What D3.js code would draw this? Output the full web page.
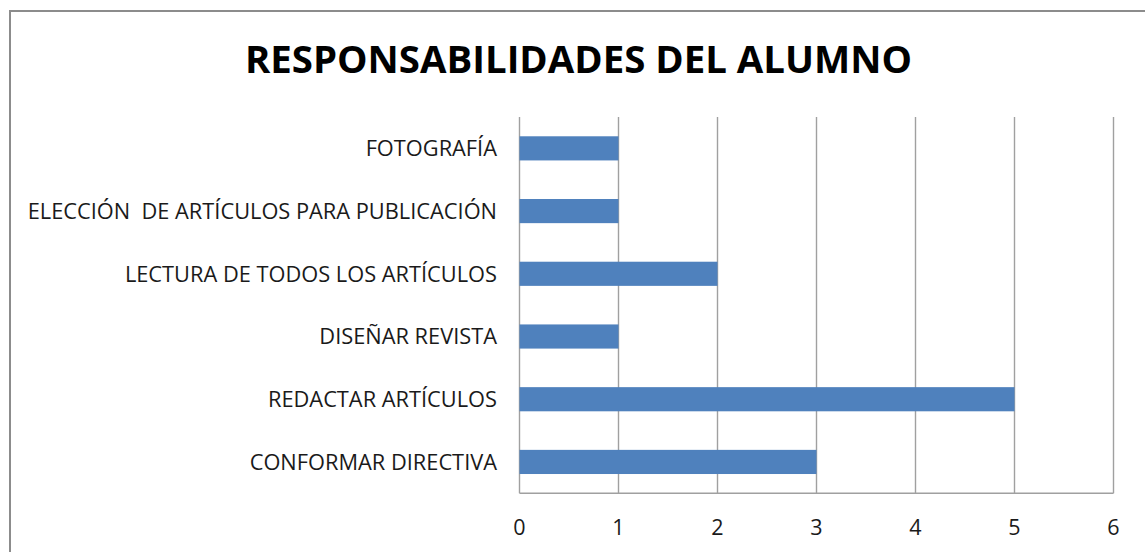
<!DOCTYPE html>
<html><head><meta charset="utf-8">
<script src="https://cdn.jsdelivr.net/npm/d3@7"></script>
<style>
html,body{margin:0;padding:0;background:#fff;overflow:hidden}
svg{display:block}
text{font-family:"Open Sans",Lato,sans-serif}
</style></head>
<body>
<svg id="c" width="1145" height="552"></svg>
<script>
const title = "RESPONSABILIDADES DEL ALUMNO";
const categories = ["FOTOGRAFÍA","ELECCIÓN  DE ARTÍCULOS PARA PUBLICACIÓN","LECTURA DE TODOS LOS ARTÍCULOS","DISEÑAR REVISTA","REDACTAR ARTÍCULOS","CONFORMAR DIRECTIVA"];
const values = [1,1,2,1,5,3];
const ticks = [0,1,2,3,4,5,6];

const svg = d3.select("#c");
svg.append("rect").attr("x",10).attr("y",11).attr("width",1150).attr("height",560)
  .attr("fill","#fff").attr("stroke","#8c8c8c").attr("stroke-width",2);

const x = d3.scaleLinear().domain([0,6]).range([519.5,1113.5]);
const y = d3.scaleBand().domain(categories).range([117,493.3]).padding(0);
const barH = y.bandwidth()*0.385;

svg.append("text").attr("x",578.5).attr("y",73).attr("text-anchor","middle")
  .attr("font-weight","bold").attr("font-size",38.4).attr("fill","#000").text(title);

// gridlines
svg.append("g").selectAll("line").data(ticks).join("line")
  .attr("x1",d=>x(d)).attr("x2",d=>x(d)).attr("y1",117).attr("y2",493.3)
  .attr("stroke","#a0a0a0").attr("stroke-width",1.4);
// bottom axis line
svg.append("line").attr("x1",x(0)).attr("x2",x(6)).attr("y1",493.3).attr("y2",493.3)
  .attr("stroke","#a0a0a0").attr("stroke-width",1.4);

// bars
svg.append("g").selectAll("rect").data(categories).join("rect")
  .attr("x",x(0)).attr("y",d=>y(d)+(y.bandwidth()-barH)/2)
  .attr("width",(d,i)=>x(values[i])-x(0)).attr("height",barH)
  .attr("fill","#4f81bd");

// category labels
svg.append("g").selectAll("text").data(categories).join("text")
  .attr("x",497).attr("y",d=>y(d)+y.bandwidth()/2).attr("dy","0.36em")
  .attr("text-anchor","end").attr("font-size",21.8).attr("fill","#1a1a1a")
  .style("white-space","pre").text(d=>d);

// tick labels
svg.append("g").selectAll("text").data(ticks).join("text")
  .attr("x",d=>x(d)).attr("y",535).attr("text-anchor","middle")
  .attr("font-size",21.5).attr("fill","#1a1a1a").text(d=>d);
</script>
</body></html>
